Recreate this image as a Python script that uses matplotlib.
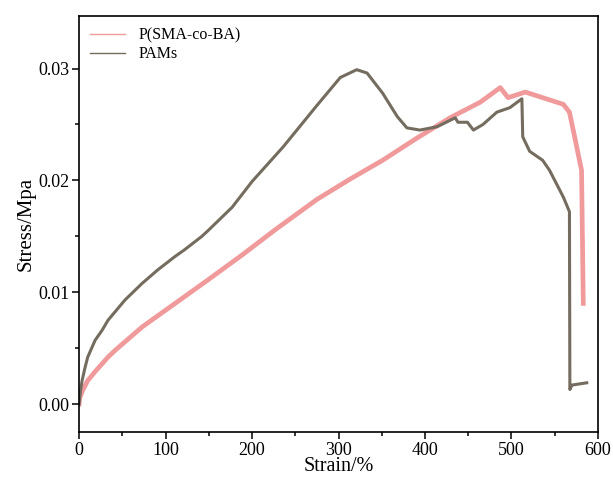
import matplotlib
matplotlib.use("Agg")
import matplotlib.pyplot as plt
from matplotlib.ticker import MultipleLocator

plt.rcParams['font.family'] = ['Liberation Serif', 'DejaVu Serif']

# P(SMA-co-BA)
strain_sma = [0, 1, 4, 10, 18.5, 33.5, 41.6, 73, 111, 149, 188, 227, 275, 313, 351, 391,
              429, 464, 487, 496, 516, 536, 560, 567, 573, 581, 583]
stress_sma = [0.0, 0.0006, 0.0012, 0.0021, 0.0029, 0.0042, 0.0048, 0.0069, 0.0090,
              0.0111, 0.0133, 0.0156, 0.0183, 0.0201, 0.0218, 0.0238, 0.0256, 0.0270,
              0.0283, 0.0274, 0.0279, 0.0274, 0.0268, 0.0261, 0.0239, 0.0209, 0.0090]

# PAMs
strain_pam = [0, 1.5, 3.5, 7, 10, 18.5, 26.6, 33.5, 53, 73, 91, 111, 122, 142, 149,
              165, 177, 200, 236, 275, 302, 321, 333, 351, 368, 379, 394, 414, 435,
              438, 449, 456, 467, 483, 498, 512, 513, 521, 536, 544, 560, 567, 567.5,
              570, 587]
stress_pam = [0.0, 0.0011, 0.0021, 0.0033, 0.0042, 0.0057, 0.0066, 0.0075, 0.0093,
              0.0108, 0.0120, 0.0132, 0.0138, 0.0150, 0.0155, 0.0167, 0.0176, 0.0199,
              0.0230, 0.0267, 0.0292, 0.0299, 0.0296, 0.0278, 0.0257, 0.0247, 0.0245,
              0.0248, 0.0256, 0.0252, 0.0252, 0.0245, 0.0250, 0.0261, 0.0265, 0.0273,
              0.0239, 0.0226, 0.0218, 0.0209, 0.0185, 0.0172, 0.0013, 0.0017, 0.0019]

fig, ax = plt.subplots(figsize=(6.13, 4.78), dpi=100)
fig.subplots_adjust(left=0.129, right=0.9755, bottom=0.0962, top=0.9665)

ax.plot(strain_sma, stress_sma, color='#f09a9c', lw=3.4, label='P(SMA-co-BA)',
        solid_joinstyle='round')
ax.plot(strain_pam, stress_pam, color='#746d5f', lw=2.2, label='PAMs',
        solid_joinstyle='round')

ax.set_xlim(0, 600)
ax.set_ylim(-0.0025, 0.0347)
ax.xaxis.set_major_locator(MultipleLocator(100))
ax.xaxis.set_minor_locator(MultipleLocator(50))
ax.yaxis.set_major_locator(MultipleLocator(0.01))
ax.yaxis.set_minor_locator(MultipleLocator(0.005))
ax.yaxis.set_major_formatter(plt.FormatStrFormatter('%.2f'))
ax.tick_params(which='both', direction='out', labelsize=13, width=1.1)
ax.tick_params(which='major', length=5, pad=2)
ax.tick_params(which='minor', length=3)
for s in ax.spines.values():
    s.set_linewidth(1.2)

ax.set_xlabel('Strain/%', fontsize=14.5, labelpad=-1)
ax.set_ylabel('Stress/Mpa', fontsize=15, labelpad=2)

leg = ax.legend(loc='upper left', frameon=False, fontsize=11.5, handlelength=2.2,
                handletextpad=0.8, labelspacing=0.2, borderaxespad=0.3)
for h in leg.get_lines():
    h.set_linewidth(1.0)

fig.savefig('out.png', dpi=100)
